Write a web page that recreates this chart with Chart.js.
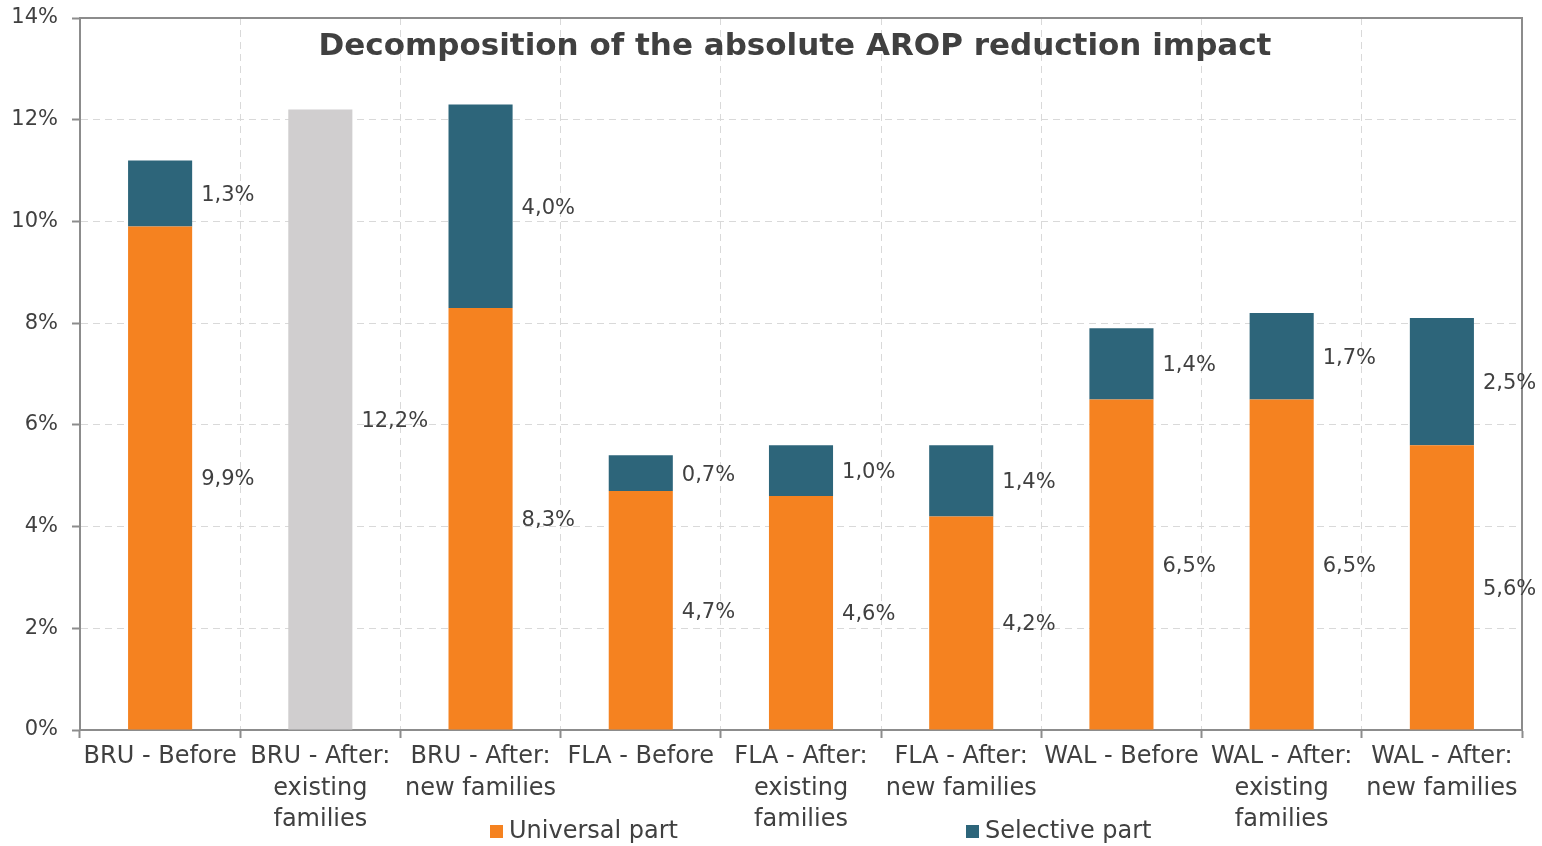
<!DOCTYPE html>
<html>
<head>
<meta charset="utf-8">
<script src="https://cdn.jsdelivr.net/npm/chart.js@4/dist/chart.umd.min.js"></script>
<style>
  html, body { margin: 0; padding: 0; background: #fff; }
  #wrap { width: 1542px; height: 846px; }
</style>
</head>
<body>
<div id="wrap"><canvas id="chart" width="1542" height="846"></canvas></div>
<script>
var categories = [
    'BRU - Before',
    ['BRU - After:', 'existing', 'families'],
    ['BRU - After:', 'new families'],
    'FLA - Before',
    ['FLA - After:', 'existing', 'families'],
    ['FLA - After:', 'new families'],
    'WAL - Before',
    ['WAL - After:', 'existing', 'families'],
    ['WAL - After:', 'new families']
];
var universalPart = [9.9, 12.2, 8.3, 4.7, 4.6, 4.2, 6.5, 6.5, 5.6];
var selectivePart = [1.3, null, 4.0, 0.7, 1.0, 1.4, 1.4, 1.7, 2.5];
var seriesNames = ['Universal part', 'Selective part'];
var titleText = 'Decomposition of the absolute AROP reduction impact';

var FONT = "'DejaVu Sans', sans-serif";
var TEXT = '#404040';
var AXIS = '#8c8c8c';
var GRID = '#d9d9d9';
var ORANGE = '#f58220';
var TEAL = '#2d657a';
var GREY = '#d0cecf';

function fmt(v) {
    return v.toFixed(1).replace('.', ',') + '%';
}

// value labels to the right of each bar segment
var labelPlugin = {
    id: 'barLabels',
    afterDatasetsDraw: function (chart) {
        var ctx = chart.ctx;
        ctx.save();
        ctx.font = '21px ' + FONT;
        ctx.fillStyle = TEXT;
        ctx.textAlign = 'left';
        ctx.textBaseline = 'middle';
        chart.data.datasets.forEach(function (ds, i) {
            var meta = chart.getDatasetMeta(i);
            meta.data.forEach(function (bar, j) {
                var v = ds.data[j];
                if (v === null || v === undefined) return;
                var p = bar.getProps(['x', 'y', 'base', 'width'], true);
                ctx.fillText(fmt(v), p.x + p.width / 2 + 9, (p.y + p.base) / 2 + 2);
            });
        });
        ctx.restore();
    }
};

// top/right frame, title inside plot, legend at the bottom
var framePlugin = {
    id: 'frame',
    beforeDatasetsDraw: function (chart) {
        var a = chart.chartArea, ctx = chart.ctx;
        ctx.save();
        ctx.strokeStyle = AXIS;
        ctx.lineWidth = 2;
        ctx.beginPath();
        ctx.moveTo(a.left, a.top);
        ctx.lineTo(a.right, a.top);
        ctx.lineTo(a.right, a.bottom);
        ctx.stroke();
        ctx.restore();
    },
    afterDraw: function (chart) {
        var a = chart.chartArea, ctx = chart.ctx;
        ctx.save();
        ctx.font = 'bold 31px ' + FONT;
        ctx.fillStyle = TEXT;
        ctx.textAlign = 'center';
        ctx.textBaseline = 'middle';
        ctx.fillText(titleText, (a.left + a.right) / 2 - 6, a.top + 29);

        var legendX = [490, 966];
        var colors = [ORANGE, TEAL];
        ctx.font = '24px ' + FONT;
        ctx.textAlign = 'left';
        for (var i = 0; i < seriesNames.length; i++) {
            ctx.fillStyle = colors[i];
            ctx.fillRect(legendX[i], 825, 13, 13);
            ctx.fillStyle = TEXT;
            ctx.fillText(seriesNames[i], legendX[i] + 19, 832);
        }
        ctx.restore();
    }
};

var bgUniversal = universalPart.map(function (v, i) { return i === 1 ? GREY : ORANGE; });

new Chart(document.getElementById('chart').getContext('2d'), {
    type: 'bar',
    data: {
        labels: categories,
        datasets: [{
            label: seriesNames[0],
            data: universalPart,
            backgroundColor: bgUniversal,
            barPercentage: 0.4,
            categoryPercentage: 1.0
        }, {
            label: seriesNames[1],
            data: selectivePart,
            backgroundColor: TEAL,
            barPercentage: 0.4,
            categoryPercentage: 1.0
        }]
    },
    options: {
        responsive: false,
        animation: false,
        layout: { padding: { top: 18, right: 20, left: 0, bottom: 0 } },
        plugins: {
            legend: { display: false },
            title: { display: false },
            tooltip: { enabled: false }
        },
        scales: {
            x: {
                stacked: true,
                grid: {
                    color: GRID,
                    lineWidth: 1,
                    tickColor: AXIS,
                    tickLength: 8,
                    tickWidth: 2,
                    offset: true
                },
                border: { color: AXIS, width: 2, dash: [7, 5] },
                ticks: {
                    color: TEXT,
                    font: { family: FONT, size: 24, lineHeight: 1.32 },
                    maxRotation: 0,
                    autoSkip: false,
                    padding: 3
                },
                afterFit: function (s) {
                    s.height = 116;
                    s.paddingLeft = 0;
                    s.paddingRight = 0;
                }
            },
            y: {
                stacked: true,
                min: 0,
                max: 14,
                grid: {
                    color: GRID,
                    lineWidth: 1,
                    tickColor: AXIS,
                    tickLength: 8,
                    tickWidth: 2
                },
                border: { color: AXIS, width: 2, dash: [7, 5] },
                ticks: {
                    stepSize: 2,
                    color: TEXT,
                    font: { family: FONT, size: 21 },
                    padding: 14,
                    callback: function (v) { return v + '%'; }
                },
                afterFit: function (s) {
                    s.width = 80;
                    s.paddingTop = 0;
                    s.paddingBottom = 0;
                }
            }
        }
    },
    plugins: [framePlugin, labelPlugin]
});
</script>
</body>
</html>
